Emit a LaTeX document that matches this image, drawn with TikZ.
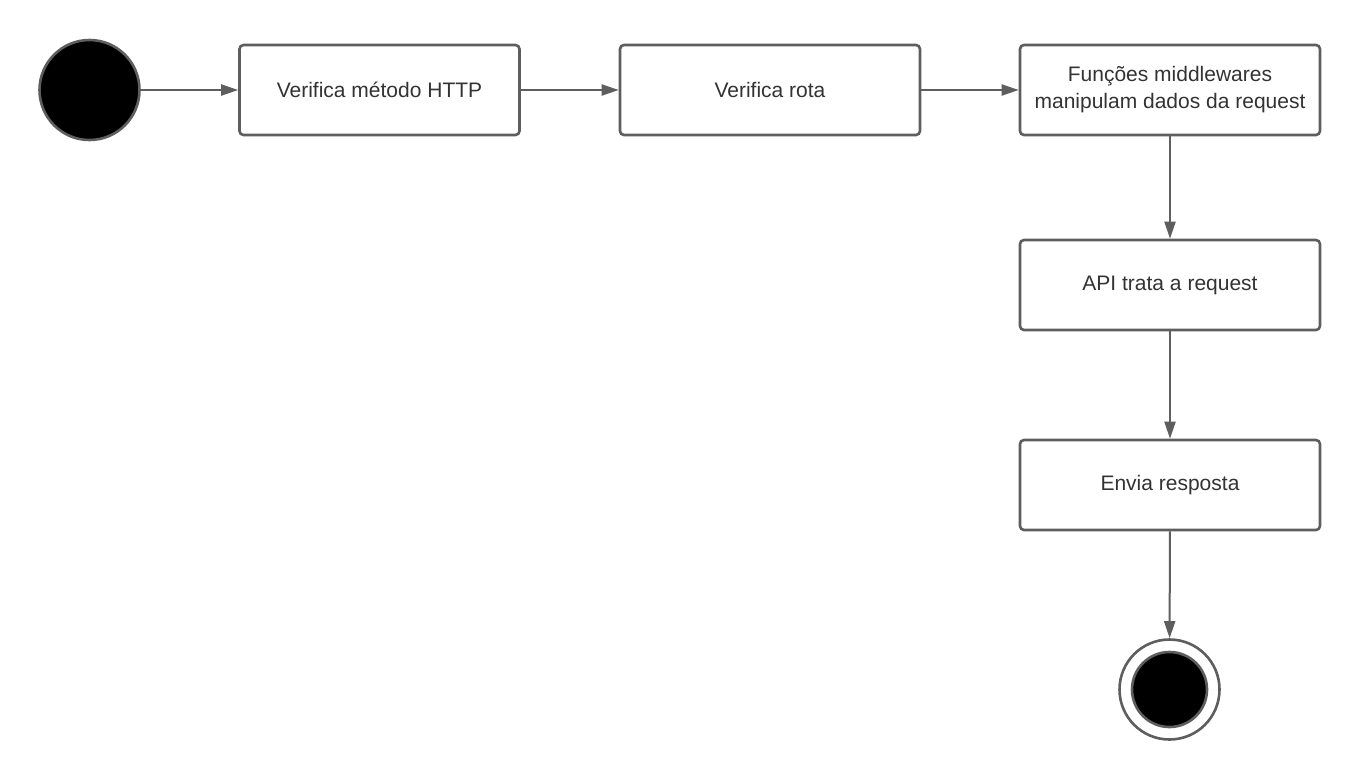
\documentclass[tikz,border=0pt]{standalone}
\usepackage{fontspec}
\setmainfont{Liberation Sans}
\usetikzlibrary{arrows.meta}
\definecolor{edge}{HTML}{5E5E5E}
\definecolor{txt}{HTML}{333333}
\begin{document}
\begin{tikzpicture}[x=1pt,y=-1pt,
  actbox/.style={draw=edge,line width=2.6pt,rounded corners=4pt,fill=white,
    minimum width=280pt,minimum height=90pt,inner sep=0pt,align=center,
    text=txt,font=\fontsize{21}{27}\selectfont},
  flow/.style={draw=edge,line width=2pt,-{Triangle[length=17pt,width=11pt]}}]
\useasboundingbox[fill=white] (0,0) rectangle (1360,780);
\node[circle,draw=edge,line width=2.6pt,fill=black,minimum size=100pt,inner sep=0pt] (start) at (89.5,90) {};
\node[actbox] (b1) at (379.5,90) {Verifica método HTTP};
\node[actbox,minimum width=300pt] (b2) at (770,90) {Verifica rota};
\node[actbox,minimum width=300pt] (b3) at (1170,90) {Funções middlewares\\manipulam dados da request};
\node[actbox,minimum width=300pt] (b4) at (1170,285) {API trata a request};
\node[actbox,minimum width=300pt] (b5) at (1170,485) {Envia resposta};
\node[circle,draw=edge,line width=2.6pt,fill=white,minimum size=100pt,inner sep=0pt] (endo) at (1169.5,689.5) {};
\node[circle,draw=edge,line width=2.6pt,fill=black,minimum size=75pt,inner sep=0pt] (endi) at (1169.5,689.5) {};
\draw[flow] (start) -- (b1);
\draw[flow] (b1) -- (b2);
\draw[flow] (b2) -- (b3);
\draw[flow] (b3) -- (b4);
\draw[flow] (b4) -- (b5);
\draw[flow] (b5) -- (endo);
\end{tikzpicture}
\end{document}
